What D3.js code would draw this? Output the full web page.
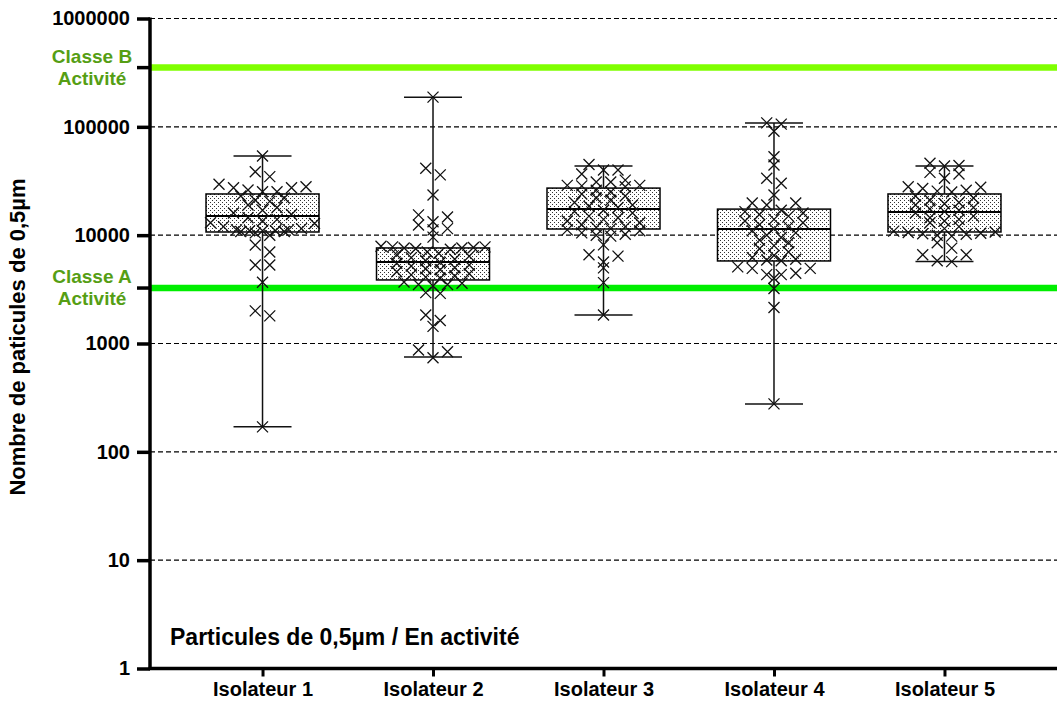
<!DOCTYPE html>
<html>
<head>
<meta charset="utf-8">
<script src="https://cdn.jsdelivr.net/npm/d3@7"></script>
<style>
  body { margin: 0; background: #fff; }
  svg text { font-family: "Liberation Sans", Arial, sans-serif; font-weight: bold; }
</style>
</head>
<body>
<svg id="chart" width="1057" height="706"></svg>
<script>
// ---- Data ----
const categories = ["Isolateur 1", "Isolateur 2", "Isolateur 3", "Isolateur 4", "Isolateur 5"];
const yTickValues = [1, 10, 100, 1000, 10000, 100000, 1000000];

// Limits (particles 0.5 µm, in operation)
const classeBLimit = 352000;
const classeALimit = 3250;
const limitLabels = [["Classe B", "Activité"], ["Classe A", "Activité"]];

// Box summaries per isolator (min / Q1 / median / Q3 / max)
const whiskerMin = [170, 750, 1830, 277, 5700];
const quartile1  = [10700, 3860, 11400, 5780, 10700];
const medians    = [15000, 5650, 17400, 11400, 16400];
const quartile3  = [24000, 7620, 27200, 17400, 24000];
const whiskerMax = [53800, 188000, 43500, 108700, 43500];

// Individual measurements
const isolateur1 = [53800, 38500, 34700, 28000, 25200, 26100, 25200, 27400, 29500, 27400,
  22000, 20500, 19000, 23000, 18000, 17000, 21000, 16000, 15500, 14500, 13500, 14000,
  12800, 12000, 13000, 11500, 11000, 11200, 10800, 11000, 11000, 10500, 11200, 10800,
  10000, 8100, 7000, 5300, 5300, 3670, 2000, 1800, 170];
const isolateur2 = [188000, 41400, 36000, 23500, 15400, 14700, 13300, 12400, 11500, 11200,
  9600, 7800, 7600, 7500, 7800, 7700, 7900, 7600, 7400, 7000, 6600, 6200, 6000, 5800,
  5600, 5500, 5300, 5000, 4800, 4600, 4400, 4300, 4200, 4100, 4000, 5200, 4900, 6800,
  6400, 3700, 3500, 2950, 2900, 3400, 3500, 3600, 1830, 1630, 1440, 740, 840, 870];
const isolateur3 = [44900, 40000, 40000, 36700, 32200, 31000, 28800, 28000, 28800, 31000,
  28500, 26000, 25000, 24000, 23000, 22000, 21000, 20000, 19000, 18500, 18000, 17000,
  16500, 16000, 15000, 14500, 14000, 13500, 13000, 12500, 12000, 11800, 11200, 11000,
  10500, 10000, 10200, 9800, 11500, 8130, 6600, 6400, 5650, 4990, 3650, 1830];
const isolateur4 = [108700, 106000, 91000, 53000, 44500, 33500, 30100, 23500, 19000, 19800,
  19800, 17000, 16500, 16000, 15500, 15000, 14000, 13500, 13000, 12500, 12000, 11500,
  11000, 10500, 10000, 9500, 9000, 8500, 8000, 7500, 7000, 6500, 6200, 6000, 5900, 4940,
  4320, 4320, 5100, 5800, 4000, 4450, 4940, 3220, 2150, 277];
const isolateur5 = [46100, 44000, 43500, 36700, 33500, 38000, 27700, 26000, 25500, 27000,
  28000, 25000, 23000, 22000, 21000, 20000, 19500, 19000, 18000, 17500, 17000, 16500,
  16000, 15000, 14500, 14000, 13500, 13000, 12000, 11500, 10700, 10400, 10200, 10000,
  10300, 10600, 10900, 9800, 8520, 7590, 6600, 6600, 5800, 5700];
const seriesValues = [isolateur1, isolateur2, isolateur3, isolateur4, isolateur5];

const yTitle = "Nombre de paticules de 0,5µm";
const panelNote = "Particules de 0,5µm / En activité";

// ---- Layout ----
const svg = d3.select("#chart");
const plotLeft = 150, plotRight = 1057, plotTop = 18.5, plotBottom = 668.5;

const y = d3.scaleLog().domain([1, 1000000]).range([plotBottom, plotTop]);
const x = d3.scalePoint().domain(categories).range([plotLeft, plotRight]).padding(0.66);

const boxWidth = 113, capWidth = 58;

// Dotted fill for the boxes
const defs = svg.append("defs");
const pat = defs.append("pattern").attr("id", "dots")
  .attr("patternUnits", "userSpaceOnUse").attr("width", 4).attr("height", 4);
pat.append("rect").attr("width", 4).attr("height", 4).attr("fill", "#fff");
pat.append("rect").attr("x", 0).attr("y", 0).attr("width", 1).attr("height", 1).attr("fill", "#333");
pat.append("rect").attr("x", 2).attr("y", 2).attr("width", 1).attr("height", 1).attr("fill", "#333");

// Dashed horizontal grid at each decade
svg.append("g").selectAll("line")
  .data(yTickValues.filter(d => d > 1))
  .join("line")
  .attr("x1", plotLeft).attr("x2", plotRight)
  .attr("y1", d => y(d)).attr("y2", d => y(d))
  .attr("stroke", "#000").attr("stroke-width", 1.1).attr("stroke-dasharray", "5,3");

// Class limits
const limits = [
  { v: classeBLimit, color: "#7FFF00", label: limitLabels[0] },
  { v: classeALimit, color: "#00EE00", label: limitLabels[1] }
];
svg.append("g").selectAll("line")
  .data(limits)
  .join("line")
  .attr("x1", plotLeft).attr("x2", plotRight)
  .attr("y1", d => y(d.v)).attr("y2", d => y(d.v))
  .attr("stroke", d => d.color).attr("stroke-width", 6.5);

// Boxes
const boxes = svg.append("g");
categories.forEach((c, i) => {
  const cx = x(c);
  const g = boxes.append("g");
  g.append("rect")
    .attr("x", cx - boxWidth / 2).attr("width", boxWidth)
    .attr("y", y(quartile3[i])).attr("height", y(quartile1[i]) - y(quartile3[i]))
    .attr("fill", "url(#dots)").attr("stroke", "#000").attr("stroke-width", 1.5);
  g.append("line")
    .attr("x1", cx - boxWidth / 2).attr("x2", cx + boxWidth / 2)
    .attr("y1", y(medians[i])).attr("y2", y(medians[i]))
    .attr("stroke", "#000").attr("stroke-width", 2);
  // whiskers
  [[whiskerMax[i], quartile3[i]], [whiskerMin[i], quartile1[i]]].forEach(([end, edge]) => {
    g.append("line")
      .attr("x1", cx).attr("x2", cx)
      .attr("y1", y(end)).attr("y2", y(edge))
      .attr("stroke", "#111").attr("stroke-width", 1.5);
    g.append("line")
      .attr("x1", cx - capWidth / 2).attr("x2", cx + capWidth / 2)
      .attr("y1", y(end)).attr("y2", y(end))
      .attr("stroke", "#111").attr("stroke-width", 1.5);
  });
});

// Scatter of individual values, spread sideways row by row
const marker = "M-5.5,-5.5L5.5,5.5M-5.5,5.5L5.5,-5.5";
const pts = svg.append("g");
seriesValues.forEach((vals, i) => {
  const cx = x(categories[i]);
  const sorted = vals.map(v => ({ v, py: y(v) })).sort((a, b) => a.py - b.py);
  const rows = [];
  sorted.forEach(p => {
    const last = rows[rows.length - 1];
    if (last && p.py - last[0].py < 8) last.push(p); else rows.push([p]);
  });
  rows.forEach(row => {
    const n = row.length;
    const step = n > 1 ? Math.min(14.5, 104 / (n - 1)) : 0;
    // alternate sides so the row stays centred
    const order = d3.range(n).map(k => (k - (n - 1) / 2) * step);
    const alternated = [];
    for (let a = 0, b = n - 1; a <= b; a++, b--) { alternated.push(order[a]); if (a !== b) alternated.push(order[b]); }
    row.forEach((p, k) => { p.px = cx + alternated[k]; });
  });
  pts.selectAll(null).data(sorted).join("path")
    .attr("d", marker)
    .attr("transform", d => `translate(${d.px},${d.py})`)
    .attr("fill", "none").attr("stroke", "#111").attr("stroke-width", 1.3);
});

// Y axis
const yAxis = d3.axisLeft(y).tickValues(yTickValues).tickFormat(d3.format("d"))
  .tickSize(13).tickPadding(7);
const gy = svg.append("g").attr("transform", `translate(${plotLeft},0)`).call(yAxis);
gy.select(".domain").attr("stroke", "#000").attr("stroke-width", 3.5)
  .attr("d", `M0,${plotTop - 1}V${plotBottom + 1.5}`);
gy.selectAll(".tick line").attr("stroke", "#000").attr("stroke-width", 3.5);
gy.selectAll(".tick text").attr("fill", "#000").style("font-size", "20px");

// Class limit ticks and green labels
const lg = svg.append("g");
limits.forEach(d => {
  lg.append("line").attr("x1", plotLeft - 13).attr("x2", plotLeft)
    .attr("y1", y(d.v)).attr("y2", y(d.v))
    .attr("stroke", "#000").attr("stroke-width", 3.5);
  const t = lg.append("text").attr("text-anchor", "middle")
    .attr("fill", "#559E14").style("font-size", "19px");
  t.append("tspan").attr("x", 92).attr("y", y(d.v) - 5).text(d.label[0]);
  t.append("tspan").attr("x", 92).attr("y", y(d.v) + 17).text(d.label[1]);
});

// X axis
const xAxis = d3.axisBottom(x).tickSize(8).tickPadding(5);
const gx = svg.append("g").attr("transform", `translate(0,${plotBottom})`).call(xAxis);
gx.select(".domain").attr("stroke", "#000").attr("stroke-width", 3.5)
  .attr("d", `M${plotLeft - 1.5},0H${plotRight}`);
gx.selectAll(".tick line").attr("stroke", "#000").attr("stroke-width", 3);
gx.selectAll(".tick text").attr("fill", "#000").style("font-size", "20px");

// Titles
svg.append("text")
  .attr("transform", "translate(25,337) rotate(-90)")
  .attr("text-anchor", "middle").style("font-size", "22px").attr("fill", "#000")
  .text(yTitle);
svg.append("text").attr("x", 170).attr("y", 645)
  .style("font-size", "23px").attr("fill", "#000").text(panelNote);
</script>
</body>
</html>
